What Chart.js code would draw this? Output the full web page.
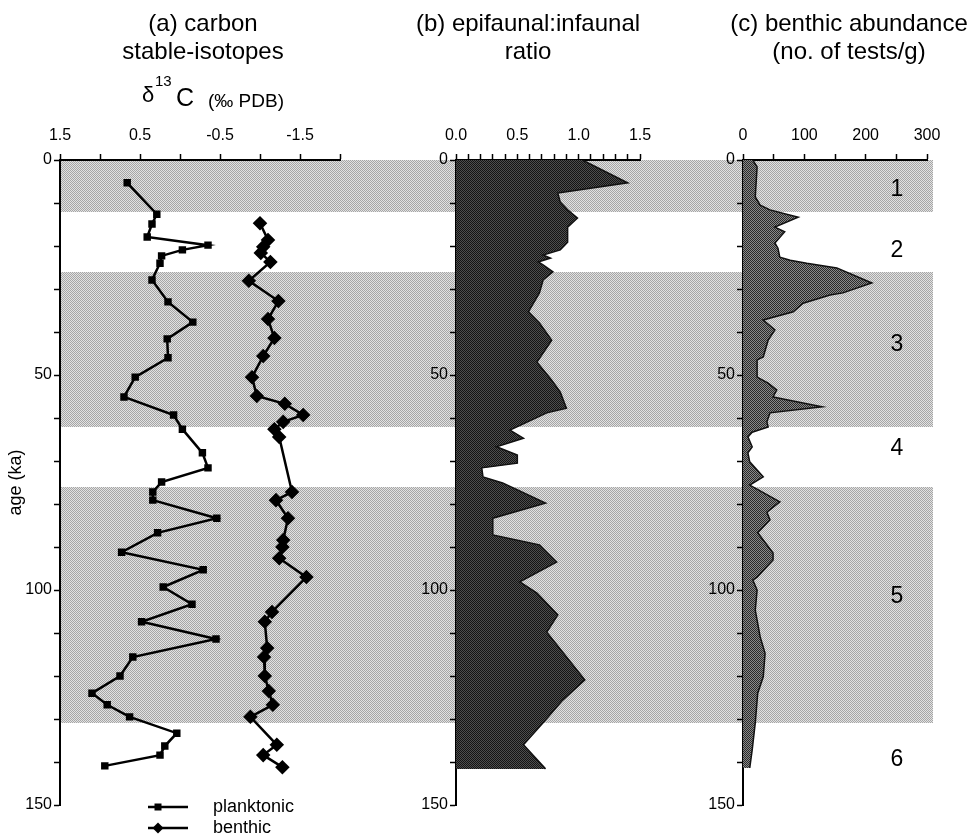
<!DOCTYPE html>
<html lang="en">
<head>
  <meta charset="UTF-8">
  <title>Carbon isotopes, epifaunal:infaunal ratio and benthic abundance</title>
  <script src="https://cdn.jsdelivr.net/npm/chart.js@4.4.7/dist/chart.umd.min.js"></script>
  <style>
    * { margin: 0; padding: 0; box-sizing: border-box; }
    body { background: #fff; font-family: 'Liberation Sans', Arial, Helvetica, sans-serif; color: #000; }
    #wrap { position: relative; width: 975px; height: 840px; overflow: hidden; }
    canvas { position: absolute; top: 0; }
    .title { position: absolute; text-align: center; font-size: 24px; line-height: 28px; white-space: nowrap; }
    .lbl { position: absolute; white-space: nowrap; line-height: 1; }
  </style>
</head>
<body>
<div id="wrap">
  <canvas id="chartA" width="350" height="840" style="left:0"></canvas>
  <canvas id="chartB" width="310" height="840" style="left:350px"></canvas>
  <canvas id="chartC" width="315" height="840" style="left:660px"></canvas>

  <div class="title" style="left:83px; top:9px; width:240px">(a) carbon<br>stable-isotopes</div>
  <div class="lbl" style="left:142px; top:84px; font-size:22px">δ</div>
  <div class="lbl" style="left:155px; top:73px; font-size:15px">13</div>
  <div class="lbl" style="left:176px; top:85px; font-size:25px">C</div>
  <div class="lbl" style="left:208px; top:91px; font-size:19px">(‰ PDB)</div>

  <div class="title" style="left:398px; top:9px; width:260px">(b) epifaunal:infaunal<br>ratio</div>
  <div class="title" style="left:714px; top:9px; width:270px">(c) benthic abundance<br>(no. of tests/g)</div>
</div>

<script>
  // 年代 (ka) と値 — 図から読み取り
  const planktonicAge = [5.3, 12.6, 14.9, 17.9, 19.8, 20.9, 22.3, 24.0, 27.9, 33.0, 37.7, 41.6, 46.0, 50.5, 55.1, 59.3, 62.6, 68.1, 71.6, 74.9, 77.2, 79.1, 83.3, 86.7, 91.2, 95.3, 99.3, 103.3, 107.4, 111.4, 115.6, 120.0, 124.0, 126.7, 129.5, 133.3, 136.3, 138.4, 140.9];
  const planktonicD13C = [0.66, 0.29, 0.35, 0.41, -0.35, -0.03, 0.23, 0.25, 0.35, 0.15, -0.16, 0.16, 0.15, 0.56, 0.70, 0.08, -0.03, -0.28, -0.35, 0.23, 0.34, 0.34, -0.46, 0.28, 0.73, -0.29, 0.21, -0.15, 0.48, -0.45, 0.59, 0.75, 1.10, 0.91, 0.63, 0.04, 0.19, 0.25, 0.94];

  const benthicAge = [14.7, 18.6, 20.2, 21.6, 23.7, 28.1, 32.8, 37.0, 41.4, 45.6, 50.5, 54.9, 56.7, 59.3, 60.9, 62.6, 64.4, 77.2, 79.1, 83.3, 88.4, 90.0, 92.6, 97.0, 105.1, 107.4, 113.5, 115.6, 120.0, 123.5, 126.7, 129.5, 136.0, 138.4, 141.2];
  const benthicD13C = [-1.00, -1.10, -1.04, -1.01, -1.13, -0.86, -1.23, -1.10, -1.18, -1.04, -0.90, -0.96, -1.31, -1.54, -1.29, -1.18, -1.24, -1.40, -1.20, -1.35, -1.29, -1.28, -1.24, -1.58, -1.15, -1.06, -1.09, -1.05, -1.06, -1.11, -1.16, -0.88, -1.21, -1.04, -1.28];

  const ratioAge = [0, 5.3, 7.7, 9.8, 11.6, 13.5, 15.6, 19.1, 20.9, 22.1, 22.8, 23.7, 24.4, 26.0, 27.9, 30.9, 35.3, 37.9, 41.9, 47.0, 51.2, 54.0, 57.7, 58.8, 62.8, 64.7, 66.7, 68.6, 70.5, 71.6, 73.7, 75.1, 79.8, 83.3, 87.2, 89.5, 93.5, 98.1, 100.7, 105.8, 109.8, 120.9, 125.6, 130.9, 136.0, 141.6];
  const ratioValue = [1.03, 1.40, 0.83, 0.85, 0.91, 0.99, 0.91, 0.91, 0.85, 0.71, 0.77, 0.67, 0.71, 0.79, 0.71, 0.68, 0.59, 0.68, 0.78, 0.66, 0.78, 0.85, 0.90, 0.74, 0.44, 0.55, 0.33, 0.50, 0.50, 0.21, 0.22, 0.38, 0.73, 0.30, 0.30, 0.68, 0.82, 0.52, 0.66, 0.83, 0.74, 1.05, 0.87, 0.71, 0.55, 0.73];

  const abundanceAge = [0, 1.6, 8.6, 9.3, 10.5, 11.6, 13.3, 15.6, 16.7, 19.3, 20.5, 22.6, 23.3, 24.0, 25.1, 28.6, 30.9, 31.4, 33.3, 35.3, 37.2, 39.5, 41.9, 45.8, 46.5, 50.5, 51.9, 53.5, 55.1, 57.4, 58.8, 60.9, 62.1, 63.3, 64.4, 66.7, 68.1, 70.2, 73.7, 75.6, 79.5, 81.9, 83.7, 86.7, 91.4, 93.0, 97.0, 97.7, 100.0, 104.7, 110.9, 114.7, 120.2, 124.0, 130.9, 137.2, 141.4];
  const abundanceValue = [16, 23, 20, 23, 28, 44, 90, 52, 68, 52, 57, 60, 77, 104, 153, 210, 163, 142, 98, 82, 33, 52, 41, 33, 23, 23, 41, 55, 49, 129, 44, 39, 41, 15, 8, 15, 8, 11, 33, 11, 60, 39, 44, 24, 49, 49, 23, 16, 23, 20, 28, 36, 33, 24, 20, 15, 11];

  // 海洋酸素同位体ステージ
  const stageBands = [[0, 12], [26, 62], [76, 131]];
  const stageLabels = ['1', '2', '3', '4', '5', '6'];
  const stageLabelAges = [7, 21, 43, 67.2, 101.6, 139.5];
  const stageLabelX = 251;

  const FONT = "'Liberation Sans', Arial, Helvetica, sans-serif";
  const tickFont = { family: FONT, size: 16 };

  function makePattern(base, dot) {
    const p = document.createElement('canvas');
    p.width = 2; p.height = 2;
    const g = p.getContext('2d');
    g.fillStyle = base; g.fillRect(0, 0, 2, 2);
    g.fillStyle = dot; g.fillRect(0, 0, 1, 1); g.fillRect(1, 1, 1, 1);
    return g.createPattern(p, 'repeat');
  }
  const bandFill = makePattern('#e2e2e2', '#a6a6a6');
  const ratioFill = makePattern('#4e4e4e', '#141414');
  const abundFill = makePattern('#8a8a8a', '#2a2a2a');

  const toPoints = (ages, vals) => ages.map((a, i) => ({ x: vals[i], y: a }));

  // 背景のステージ帯
  const bandPlugin = {
    id: 'bands',
    beforeDraw(chart, args, opts) {
      const { ctx, chartArea, scales: { y } } = chart;
      const from = opts.from == null ? chartArea.left : opts.from;
      ctx.save();
      ctx.fillStyle = bandFill;
      stageBands.forEach(([a, b]) => {
        const y0 = Math.round(y.getPixelForValue(a));
        const y1 = Math.round(y.getPixelForValue(b));
        ctx.fillRect(from, y0, opts.to - from, y1 - y0);
      });
      ctx.restore();
    }
  };

  const grid = { drawOnChartArea: false, drawTicks: true, tickLength: 6, tickWidth: 1.5, tickColor: '#000' };
  const border = { display: true, color: '#000', width: 2 };

  function yAxis(title) {
    return {
      type: 'linear', min: 0, max: 150, reverse: true,
      border, grid,
      ticks: { stepSize: 10, autoSkip: false, color: '#000', font: tickFont, padding: 2,
        callback: v => (v % 50 === 0 ? String(v) : '') },
      title: { display: !!title, text: title || '', color: '#000', font: { family: FONT, size: 18 },
        padding: { top: 5, bottom: 0 } },
      afterFit(s) { s.width = 60; s.paddingTop = 0; s.paddingBottom = 0; }
    };
  }

  function xAxis(min, max, step, reverse, labelFn) {
    return {
      type: 'linear', position: 'top', min, max, reverse,
      border, grid,
      ticks: { stepSize: step, autoSkip: false, maxRotation: 0, minRotation: 0, padding: 9,
        color: '#000', font: tickFont, callback: labelFn },
      afterFit(s) { s.height = 40; s.paddingLeft = 0; s.paddingRight = 0; }
    };
  }

  function baseOptions(pad, x, y, bands) {
    return {
      responsive: false,
      animation: false,
      indexAxis: 'y',
      layout: { padding: pad },
      scales: { x, y },
      plugins: { legend: { display: false }, tooltip: { enabled: false }, bands }
    };
  }

  // (a) 炭素安定同位体
  const legendPlugin = {
    id: 'isoLegend',
    afterDraw(chart) {
      const ctx = chart.ctx;
      const rows = [807, 828];
      ctx.save();
      chart.data.datasets.forEach((ds, i) => {
        const y = rows[i];
        ctx.strokeStyle = '#000';
        ctx.lineWidth = 2.5;
        ctx.beginPath(); ctx.moveTo(148, y); ctx.lineTo(188, y); ctx.stroke();
        ctx.fillStyle = '#000';
        const r = ds.pointRadius;
        ctx.beginPath();
        if (ds.pointStyle === 'rect') {
          ctx.rect(158 - r, y - r, 2 * r, 2 * r);
        } else {
          ctx.moveTo(158, y - r); ctx.lineTo(158 + r, y); ctx.lineTo(158, y + r); ctx.lineTo(158 - r, y); ctx.closePath();
        }
        ctx.fill();
        ctx.font = '18px ' + FONT;
        ctx.textBaseline = 'middle';
        ctx.fillText(ds.label, 213, y);
      });
      ctx.restore();
    }
  };

  new Chart(document.getElementById('chartA'), {
    type: 'line',
    data: {
      datasets: [
        { label: 'planktonic', data: toPoints(planktonicAge, planktonicD13C),
          borderColor: '#000', backgroundColor: '#000', borderWidth: 2.5,
          pointStyle: 'rect', pointRadius: 3.5, fill: false, tension: 0 },
        { label: 'benthic', data: toPoints(benthicAge, benthicD13C),
          borderColor: '#000', backgroundColor: '#000', borderWidth: 2.5,
          pointStyle: 'rectRot', pointRadius: 5.5, fill: false, tension: 0 }
      ]
    },
    options: baseOptions({ left: 0, top: 120, right: 10, bottom: 35 },
      xAxis(-2, 1.5, 0.5, true, v => {
        const r = Math.round(v * 10) / 10;
        return [1.5, 0.5, -0.5, -1.5].includes(r) ? r.toFixed(1) : '';
      }),
      yAxis('age (ka)'),
      { from: null, to: 350 }),
    plugins: [bandPlugin, legendPlugin]
  });

  // (b) 表生:内生 比
  new Chart(document.getElementById('chartB'), {
    type: 'line',
    data: {
      datasets: [
        { label: 'epifaunal:infaunal', data: toPoints(ratioAge, ratioValue),
          borderColor: '#111', backgroundColor: ratioFill, borderWidth: 1.5,
          pointRadius: 0, fill: 'origin', tension: 0 }
      ]
    },
    options: baseOptions({ left: 46, top: 120, right: 20, bottom: 35 },
      xAxis(0, 1.5, 0.1, false, v => {
        const t = Math.round(v * 10);
        return t % 5 === 0 ? (t / 10).toFixed(1) : '';
      }),
      yAxis(null),
      { from: 0, to: 310 }),
    plugins: [bandPlugin]
  });

  // (c) 底生有孔虫の個体数
  const stagePlugin = {
    id: 'stageLabels',
    afterDraw(chart) {
      const { ctx, scales: { x, y } } = chart;
      ctx.save();
      ctx.fillStyle = '#000';
      ctx.font = '23px ' + FONT;
      ctx.textAlign = 'center';
      ctx.textBaseline = 'middle';
      stageLabels.forEach((s, i) => {
        ctx.fillText(s, x.getPixelForValue(stageLabelX), y.getPixelForValue(stageLabelAges[i]));
      });
      ctx.restore();
    }
  };

  new Chart(document.getElementById('chartC'), {
    type: 'line',
    data: {
      datasets: [
        { label: 'benthic abundance', data: toPoints(abundanceAge, abundanceValue),
          borderColor: '#111', backgroundColor: abundFill, borderWidth: 1.5,
          pointRadius: 0, fill: 'origin', tension: 0 }
      ]
    },
    options: baseOptions({ left: 23, top: 120, right: 48, bottom: 35 },
      xAxis(0, 300, 50, false, v => (v % 100 === 0 ? String(v) : '')),
      yAxis(null),
      { from: 0, to: 273 }),
    plugins: [bandPlugin, stagePlugin]
  });
</script>
</body>
</html>
